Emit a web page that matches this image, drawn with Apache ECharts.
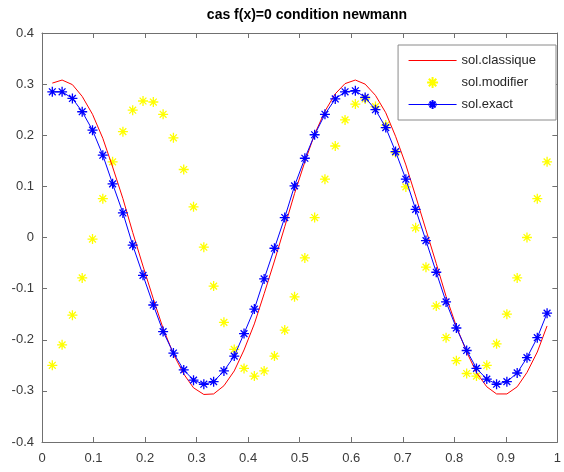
<!DOCTYPE html>
<html>
<head>
<meta charset="utf-8">
<script src="https://cdn.jsdelivr.net/npm/echarts@6/dist/echarts.min.js"></script>
<style>
html,body{margin:0;padding:0;background:#fff;}
#chart{width:564px;height:472px;}
</style>
</head>
<body>
<div id="chart"></div>
<script>
var titleText = 'cas f(x)=0 condition newmann';
var seriesNames = ['sol.classique', 'sol.modifier', 'sol.exact'];
var xs = [0.020,0.039,0.059,0.078,0.098,0.118,0.137,0.157,0.176,0.196,0.216,0.235,0.255,0.275,0.294,0.314,0.333,0.353,0.373,0.392,0.412,0.431,0.451,0.471,0.490,0.510,0.529,0.549,0.569,0.588,0.608,0.627,0.647,0.667,0.686,0.706,0.725,0.745,0.765,0.784,0.804,0.824,0.843,0.863,0.882,0.902,0.922,0.941,0.961,0.980];
var classique = [0.302,0.308,0.299,0.276,0.241,0.194,0.138,0.076,0.010,-0.056,-0.120,-0.178,-0.228,-0.267,-0.294,-0.307,-0.306,-0.290,-0.261,-0.220,-0.169,-0.110,-0.046,0.021,0.086,0.148,0.202,0.247,0.281,0.301,0.308,0.300,0.278,0.244,0.198,0.142,0.081,0.015,-0.051,-0.115,-0.174,-0.224,-0.264,-0.292,-0.306,-0.306,-0.292,-0.264,-0.224,-0.173];
var modifier = [-0.250,-0.210,-0.152,-0.079,-0.003,0.076,0.148,0.207,0.249,0.267,0.265,0.241,0.195,0.133,0.060,-0.019,-0.095,-0.166,-0.219,-0.256,-0.271,-0.261,-0.232,-0.181,-0.116,-0.040,0.039,0.114,0.179,0.230,0.261,0.271,0.256,0.220,0.166,0.099,0.019,-0.058,-0.134,-0.196,-0.241,-0.266,-0.271,-0.250,-0.208,-0.150,-0.079,0.000,0.076,0.148];
var exact = [0.285,0.285,0.272,0.246,0.210,0.161,0.105,0.048,-0.015,-0.074,-0.132,-0.184,-0.226,-0.259,-0.279,-0.287,-0.282,-0.261,-0.232,-0.188,-0.140,-0.081,-0.021,0.039,0.101,0.155,0.201,0.241,0.271,0.285,0.287,0.274,0.250,0.215,0.168,0.114,0.055,-0.006,-0.068,-0.126,-0.177,-0.221,-0.256,-0.277,-0.287,-0.282,-0.265,-0.235,-0.196,-0.148];

function pairs(x, y) { return x.map(function (v, i) { return [v, y[i]]; }); }

var star = 'path://M5,0L5,10M0,5L10,5M1.6,1.6L8.4,8.4M1.6,8.4L8.4,1.6';
var axisCol = '#707070';
var textCol = '#3a3a3a';
var font = 'Liberation Sans, Arial, Helvetica, sans-serif';

var chart = echarts.init(document.getElementById('chart'), null, {renderer: 'canvas'});
var baseX = {
  type: 'value', min: 0, max: 1, interval: 0.1,
  axisLine: {show: true, onZero: false, lineStyle: {color: axisCol, width: 1}},
  axisTick: {show: true, inside: true, length: 5, lineStyle: {color: axisCol}},
  splitLine: {show: false}
};
var baseY = {
  type: 'value', min: -0.4, max: 0.4, interval: 0.1,
  axisLine: {show: true, onZero: false, lineStyle: {color: axisCol, width: 1}},
  axisTick: {show: true, inside: true, length: 5, lineStyle: {color: axisCol}},
  splitLine: {show: false}
};
chart.setOption({
  animation: false,
  backgroundColor: '#fff',
  title: {
    text: titleText, left: 302, top: 3, textAlign: 'center',
    textStyle: {fontFamily: font, fontSize: 14, fontWeight: 'bold', color: '#000'}
  },
  grid: {left: 42, right: 2, top: 33, bottom: 30, containLabel: false},
  legend: {
    orient: 'vertical', right: 8, top: 45,
    padding: [9, 20, 9, 10], itemGap: 9, itemWidth: 48, itemHeight: 11,
    borderColor: '#8a8a8a', borderWidth: 1, backgroundColor: '#fff',
    lineStyle: {width: 1},
    textStyle: {fontFamily: font, fontSize: 13, color: '#262626'},
    data: [
      {name: seriesNames[0], itemStyle: {opacity: 0}},
      {name: seriesNames[1]},
      {name: seriesNames[2]}
    ]
  },
  xAxis: [
    Object.assign({}, baseX, {position: 'bottom',
      axisLabel: {margin: 10, color: textCol, fontFamily: font, fontSize: 13}}),
    Object.assign({}, baseX, {position: 'top', axisLabel: {show: false}})
  ],
  yAxis: [
    Object.assign({}, baseY, {position: 'left',
      axisLabel: {margin: 8, color: textCol, fontFamily: font, fontSize: 13}}),
    Object.assign({}, baseY, {position: 'right', axisLabel: {show: false}})
  ],
  series: [
    {
      name: seriesNames[0], type: 'line', data: pairs(xs, classique),
      showSymbol: false, symbol: 'none',
      lineStyle: {color: '#ff0000', width: 1}, itemStyle: {color: '#ff0000'}
    },
    {
      name: seriesNames[1], type: 'scatter', data: pairs(xs, modifier),
      symbol: star, symbolSize: 10,
      itemStyle: {color: '#ffff00', borderColor: '#ffff00', borderWidth: 1.3, opacity: 1}
    },
    {
      name: seriesNames[2], type: 'line', data: pairs(xs, exact),
      symbol: star, symbolSize: 10, showSymbol: true,
      lineStyle: {color: '#0000ff', width: 1},
      itemStyle: {color: '#0000ff', borderColor: '#0000ff', borderWidth: 1.3}
    }
  ]
});
</script>
</body>
</html>
